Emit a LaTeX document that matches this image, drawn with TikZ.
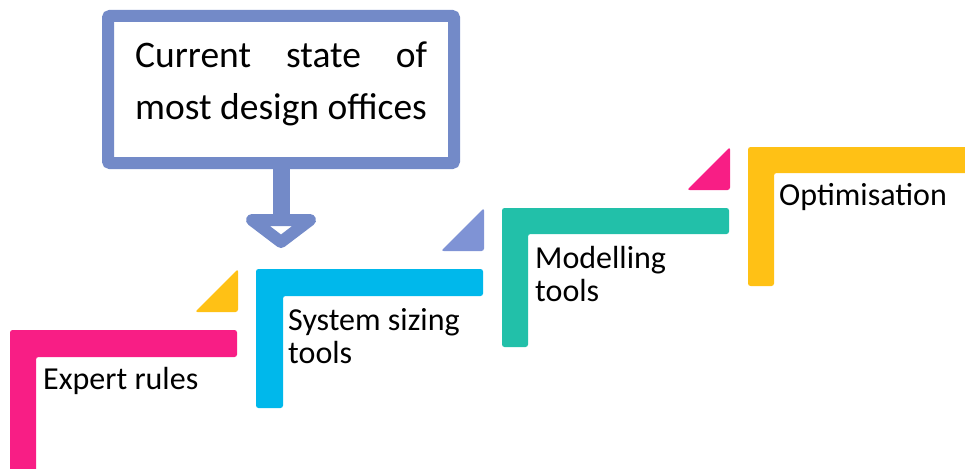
\documentclass[tikz,border=0pt]{standalone}
\usepackage{fontspec}
\setmainfont{Carlito}
\definecolor{cpink}{HTML}{F81E85}
\definecolor{cyellow}{HTML}{FFC115}
\definecolor{cblue}{HTML}{00B8EB}
\definecolor{cteal}{HTML}{22C0A9}
\definecolor{cperi}{HTML}{7F93D5}
\definecolor{cbox}{HTML}{738AC8}
\begin{document}
\begin{tikzpicture}[x=1pt,y=-1pt,
  stepfill/.style={rounded corners=2.5pt},
  lbl/.style={font=\fontsize{32}{33.5}\selectfont, inner sep=0pt, align=left, anchor=base west},
  callout/.style={draw=cbox, line width=12pt, rounded corners=2pt, fill=white, minimum width=346pt, minimum height=147pt, inner sep=0pt}]
\useasboundingbox (0,0) rectangle (965,468);
\clip (0,0) rectangle (965,468);
% steps
\fill[cpink, stepfill] (10,480) -- (10,330) -- (237,330) -- (237,357) -- (36,357) -- (36,480) -- cycle;
\fill[cyellow, stepfill] (238,269) -- (238,312) -- (195,312) -- cycle;
\fill[cblue, stepfill] (256,408) -- (256,269) -- (483,269) -- (483,296) -- (283,296) -- (283,408) -- cycle;
\fill[cperi, stepfill] (484,208) -- (484,251) -- (441,251) -- cycle;
\fill[cteal, stepfill] (502,347) -- (502,208) -- (729,208) -- (729,234) -- (528,234) -- (528,347) -- cycle;
\fill[cpink, stepfill] (730,147) -- (730,190) -- (687,190) -- cycle;
\fill[cyellow, stepfill] (748,286) -- (748,147) -- (980,147) -- (980,173) -- (774,173) -- (774,286) -- cycle;
% labels (base anchor = baseline of last line)
\node[lbl] (l1) at (43,389) {Expert rules};
\node[lbl] (l2) at (288,363.5) {System sizing\\tools};
\node[lbl] (l3) at (535,301.5) {Modelling\\tools};
\node[lbl] (l4) at (779,205) {Optimisation};
% callout
\node[callout] (box) at (281,89.5) {};
\node[font=\fontsize{37.5}{52}\selectfont, inner sep=0pt, align=left, anchor=base west] (boxtext) at (135,120) {\makebox[292pt][s]{Current state of}\\most design offices};
\coordinate (tip) at (281,220);
\draw[cbox, line width=17pt] (box.south) -- (tip);
\draw[cbox, line width=12pt, line join=round, fill=white] (252,220) -- (310,220) -- (281,242) -- cycle;
\end{tikzpicture}
\end{document}
